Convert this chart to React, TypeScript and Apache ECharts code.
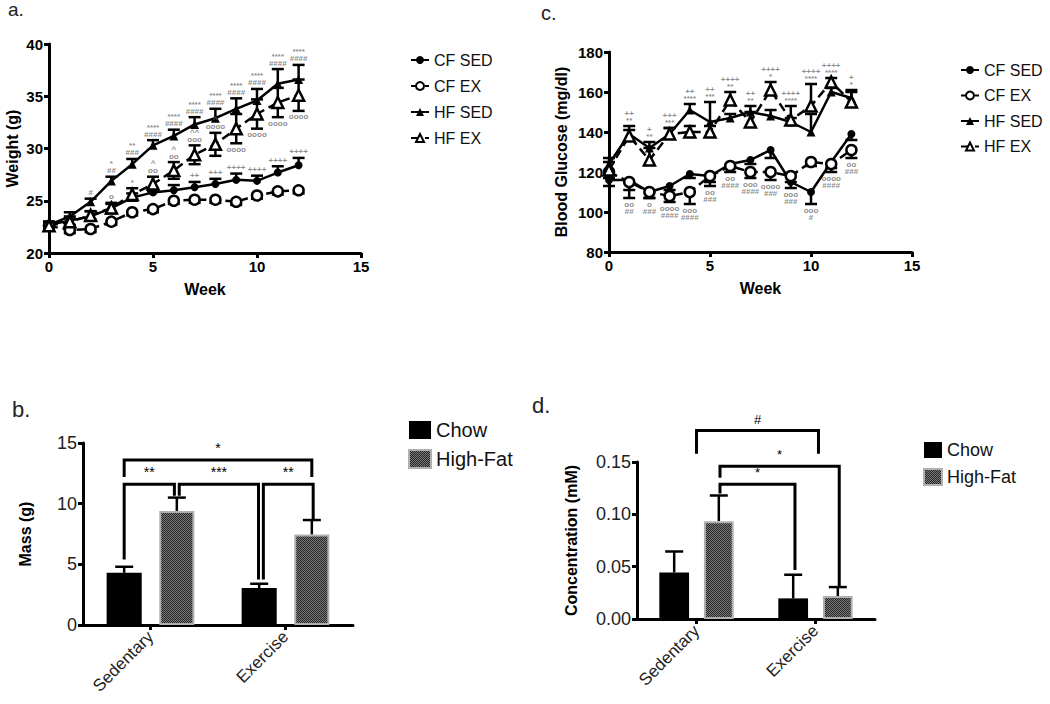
import React, { useEffect, useRef } from 'react';
import * as echarts from 'echarts';

const FONT = '"Liberation Sans", Arial, Helvetica, sans-serif';

// ---------- Panel a: body weight ----------
const weeks = [0, 1, 2, 3, 4, 5, 6, 7, 8, 9, 10, 11, 12];
const aCfSed = [22.7, 23.1, 23.5, 24.3, 25.3, 25.8, 26.0, 26.3, 26.6, 27.0, 26.9, 27.7, 28.4];
const aCfEx = [22.6, 22.2, 22.3, 23.0, 23.9, 24.2, 25.0, 25.1, 25.1, 24.9, 25.5, 25.9, 26.0];
const aHfSed = [22.7, 23.5, 24.9, 26.9, 28.5, 30.3, 31.2, 32.3, 32.9, 33.8, 34.6, 36.2, 36.6];
const aHfEx = [22.6, 23.0, 23.6, 24.3, 25.6, 26.6, 27.9, 29.4, 30.4, 31.9, 33.3, 34.4, 35.1];
const aCfSedErr = [0.3, 0.4, 0.5, 0.4, 0.4, 0.4, 0.5, 0.5, 0.5, 0.6, 0.5, 0.6, 0.7];
const aCfExErr = [0.3, 0.3, 0.3, 0.3, 0.3, 0.3, 0.3, 0.3, 0.3, 0.3, 0.3, 0.3, 0.3];
const aHfSedErr = [0.3, 0.4, 0.3, 0.4, 0.5, 0.5, 0.6, 0.7, 0.9, 1.0, 1.1, 1.4, 1.4];
const aHfExErr = [0.3, 0.3, 0.4, 0.5, 0.6, 0.7, 0.8, 0.9, 1.1, 1.4, 1.4, 1.4, 1.5];
const aHfSedNotes = ['', '', '#', '*\n##', '**\n###', '****\n####', '****\n####', '****\n####', '****\n####', '****\n####', '****\n####', '****\n####', '****\n####'];
const aHfExTopNotes = ['', '', '', 'o', '*', '^\noo', '^\noo', '^^\nooo', '^\noooo', '', '', '', ''];
const aHfExBottomNotes = ['', '', '', '', '', '', '', '', '', 'oooo', 'oooo', 'oooo', 'oooo'];
const aCfSedNotes = ['', '', '', '', '', '', '', '++', '+++', '++++', '++++', '++++', '++++'];

// ---------- Panel c: blood glucose ----------
const cCfSed = [116, 116, 110, 113, 119, 118, 124, 126, 131, 115, 110, 125, 139];
const cCfEx = [120, 115, 110, 108, 110, 118, 123, 120, 120, 118, 125, 124, 131];
const cHfSed = [124, 139, 132, 139, 151, 145, 147, 150, 148, 145, 140, 160, 157];
const cHfEx = [121, 138, 126, 139, 140, 140, 156, 145, 161, 146, 153, 165, 155];
const cCfSedErr = [3, 9, 3, 2, 2, 3, 2, 2, 4, 3, 6, 3, 3];
const cCfExErr = [3, 4, 3, 3, 6, 5, 3, 3, 4, 3, 2, 4, 4];
const cHfSedErr = [3, 4, 3, 3, 3, 10, 2, 3, 3, 2, 9, 2, 4];
const cHfExErr = [4, 3, 6, 3, 3, 3, 4, 5, 4, 7, 11, 2, 5];
const cHfNotes = ['', '++\n**', '+\n**', '+++\n***', '++\n****', '++\n***', '++++\n**', '++\n**', '++++\n*', '++++\n****', '++++\n****', '++++\n****', '+\n*'];
const cCfNotes = ['', 'oo\n##', 'o\n###', 'oooo\n####', 'ooo\n####', 'oo\n###', 'oo\n####', 'ooo\n####', 'oooo\n###', 'ooo\n###', 'ooo\n#', 'oooo\n####', 'oo\n###'];

const lineNames = ['CF SED', 'CF EX', 'HF SED', 'HF EX'];

// ---------- Panel b: fat mass ----------
const barCategories = ['Sedentary', 'Exercise'];
const barNames = ['Chow', 'High-Fat'];
const bChow = [4.3, 3.05];
const bChowErr = [0.5, 0.35];
const bHf = [9.4, 7.45];
const bHfErr = [1.1, 1.2];
const bBracketLabels = ['*', '**', '***', '**'];
const bBracketTops = [13.6, 11.6, 11.6, 11.6];
const bBracketEnds = [[12.2, 12.2], [5.4, 10.65], [10.65, 3.75], [3.75, 8.7]];

// ---------- Panel d: concentration ----------
const dChow = [0.0445, 0.0197];
const dChowErr = [0.02, 0.0226];
const dHf = [0.0935, 0.022];
const dHfErr = [0.0245, 0.0085];
const dBracketLabels = ['#', '*', '*'];
const dBracketTops = [0.18, 0.146, 0.1287];
const dBracketEnds = [[0.158, 0.158], [0.135, 0.0308], [0.12, 0.0467]];

const B_BAR_W = 0.26;
const B_OFF = 0.75 * B_BAR_W;
const D_BAR_W = 0.25;
const D_OFF = 0.75 * D_BAR_W;
const bBracketX = [
  [-B_OFF, 1 + B_OFF],
  [-B_OFF, B_OFF - 0.018],
  [B_OFF + 0.018, 1 - B_OFF - 0.005],
  [1 - B_OFF + 0.031, 1 + B_OFF + 0.01],
];
const dBracketX = [
  [0, 1.025],
  [D_OFF + 0.01, 1 + D_OFF + 0.012],
  [D_OFF + 0.01, 1 - D_OFF + 0.015],
];

const NOTE_COLOR = '#6e6e6e';

function errSeries(xi: number, yi: number, xs: number[], ys: number[], errs: number[], dir: number, capW: number, lw: number) {
  return {
    type: 'custom',
    xAxisIndex: xi,
    yAxisIndex: yi,
    silent: true,
    clip: false,
    z: 1,
    encode: { x: 0, y: 1 },
    data: xs.map((x, i) => [x, ys[i], errs[i]]),
    renderItem: (_p: any, api: any) => {
      const x = api.value(0);
      const y = api.value(1);
      const e = api.value(2);
      const top = api.coord([x, dir >= 0 ? y + e : y]);
      const bot = api.coord([x, dir <= 0 ? y - e : y]);
      const st = { stroke: '#000', lineWidth: lw };
      const children: any[] = [
        { type: 'line', shape: { x1: top[0], y1: top[1], x2: bot[0], y2: bot[1] }, style: st },
      ];
      if (dir >= 0) children.push({ type: 'line', shape: { x1: top[0] - capW / 2, y1: top[1], x2: top[0] + capW / 2, y2: top[1] }, style: st });
      if (dir <= 0) children.push({ type: 'line', shape: { x1: bot[0] - capW / 2, y1: bot[1], x2: bot[0] + capW / 2, y2: bot[1] }, style: st });
      return { type: 'group', children };
    },
  };
}

function noteSeries(xi: number, yi: number, xs: number[], anchors: number[], texts: string[], pos: string) {
  const keep = xs.map((_, i) => i).filter((i) => texts[i]);
  return {
    type: 'scatter',
    xAxisIndex: xi,
    yAxisIndex: yi,
    silent: true,
    z: 6,
    color: NOTE_COLOR,
    symbolSize: 1,
    itemStyle: { color: 'rgba(255,255,255,0)' },
    data: keep.map((i) => [xs[i], anchors[i]]),
    label: {
      show: true,
      position: pos,
      distance: 2,
      fontSize: 8,
      lineHeight: 7,
      fontWeight: 'bold',
      color: NOTE_COLOR,
      textBorderWidth: 0,
      fontFamily: FONT,
      formatter: (p: any) => texts[keep[p.dataIndex]],
    },
  };
}

function lineSeries(name: string, xi: number, yi: number, vals: number[], symbol: string, size: number, open: boolean) {
  return {
    type: 'line',
    name,
    xAxisIndex: xi,
    yAxisIndex: yi,
    z: 3,
    color: '#000',
    symbol,
    symbolSize: size,
    showAllSymbol: true,
    data: weeks.map((w, i) => [w, vals[i]]),
    lineStyle: { color: '#000', width: 2.5, type: open ? [9, 5] : 'solid' },
    itemStyle: open ? { color: '#fff', borderColor: '#000', borderWidth: 2.5 } : { color: '#000' },
  };
}

function bracketSeries(xi: number, yi: number, xs: number[][], tops: number[], ends: number[][], labels: string[], fs: number) {
  return {
    type: 'custom',
    xAxisIndex: xi,
    yAxisIndex: yi,
    silent: true,
    clip: false,
    z: 4,
    encode: { x: [0, 1], y: [2, 3, 4] },
    data: xs.map((x, i) => [x[0], x[1], tops[i], ends[i][0], ends[i][1]]),
    renderItem: (p: any, api: any) => {
      const x1 = api.value(0);
      const x2 = api.value(1);
      const t = api.value(2);
      const a = api.coord([x1, api.value(3)]);
      const b = api.coord([x1, t]);
      const c = api.coord([x2, t]);
      const d = api.coord([x2, api.value(4)]);
      return {
        type: 'group',
        children: [
          {
            type: 'polyline',
            shape: { points: [a, b, c, d] },
            style: { stroke: '#000', lineWidth: 3, fill: null, lineJoin: 'miter' },
          },
          {
            type: 'text',
            x: (b[0] + c[0]) / 2,
            y: b[1] - 5,
            style: { text: labels[p.dataIndex], fontSize: fs, fontFamily: FONT, fill: '#000', align: 'center', verticalAlign: 'bottom' },
          },
        ],
      };
    },
  };
}

function valueX(grid: number, max: number, name: string) {
  return {
    type: 'value',
    gridIndex: grid,
    min: 0,
    max,
    interval: 5,
    name,
    nameLocation: 'middle',
    nameGap: 28,
    nameTextStyle: { fontWeight: 'bold', fontSize: 16, color: '#000', fontFamily: FONT },
    axisLine: { onZero: false, lineStyle: { color: '#000', width: 3 } },
    axisTick: { show: true, length: 5, lineStyle: { color: '#000', width: 3 } },
    axisLabel: { fontWeight: 'bold', fontSize: 15, color: '#000', margin: 6, fontFamily: FONT },
    splitLine: { show: false },
  };
}

function valueY(grid: number, min: number, max: number, interval: number, name: string, gap: number, bold: boolean, fs: number, fmt?: (v: number) => string) {
  return {
    type: 'value',
    gridIndex: grid,
    min,
    max,
    interval,
    name,
    nameLocation: 'middle',
    nameGap: gap,
    nameTextStyle: { fontWeight: 'bold', fontSize: 16, color: '#000', fontFamily: FONT },
    axisLine: { show: true, onZero: false, lineStyle: { color: '#000', width: 3 } },
    axisTick: { show: true, length: 5, lineStyle: { color: '#000', width: 3 } },
    axisLabel: { fontWeight: bold ? 'bold' : 'normal', fontSize: fs, color: bold ? '#000' : '#222', margin: 6, fontFamily: FONT, formatter: fmt },
    splitLine: { show: false },
  };
}

function catX(grid: number) {
  return {
    type: 'category',
    gridIndex: grid,
    data: barCategories,
    axisLine: { lineStyle: { color: '#000', width: 3 } },
    axisTick: { show: true, alignWithLabel: true, length: 5, lineStyle: { color: '#000', width: 3 } },
    axisLabel: { rotate: 45, fontSize: 17, color: '#222', margin: 9, fontFamily: FONT },
    splitLine: { show: false },
  };
}

function hiddenX(grid: number) {
  return { type: 'value', gridIndex: grid, min: -0.5, max: 1.5, show: false, splitLine: { show: false } };
}

export default function App() {
  const ref = useRef<HTMLDivElement>(null);
  useEffect(() => {
    if (!ref.current) return;
    const cv = document.createElement('canvas');
    cv.width = 4;
    cv.height = 4;
    const ctx = cv.getContext('2d')!;
    ctx.fillStyle = '#7a7a7a';
    ctx.fillRect(0, 0, 4, 4);
    ctx.fillStyle = '#262626';
    for (let y = 0; y < 4; y++) for (let x = 0; x < 4; x++) if ((x + y) % 2 === 0) ctx.fillRect(x, y, 1, 1);
    const hfFill = { image: cv.toDataURL(), repeat: 'repeat', imageWidth: 4, imageHeight: 4 };

    const chart = echarts.init(ref.current, undefined, { renderer: 'svg' });
    const hfStyle = { color: hfFill, borderColor: '#b0b0b0', borderWidth: 2 };

    const option: any = {
      animation: false,
      textStyle: { fontFamily: FONT },
      grid: [
        { left: 49, top: 44, width: 312, height: 209, outerBoundsMode: 'none' },
        { left: 609, top: 52, width: 303, height: 200, outerBoundsMode: 'none' },
        { left: 83, top: 443, width: 270, height: 182, outerBoundsMode: 'none' },
        { left: 637, top: 462, width: 238, height: 157, outerBoundsMode: 'none' },
      ],
      xAxis: [valueX(0, 15, 'Week'), valueX(1, 15, 'Week'), catX(2), hiddenX(2), catX(3), hiddenX(3)],
      yAxis: [
        valueY(0, 20, 40, 5, 'Weight (g)', 29, true, 15),
        valueY(1, 80, 180, 20, 'Blood Glucose (mg/dl)', 40, true, 15),
        valueY(2, 0, 15, 5, 'Mass (g)', 50, false, 18),
        valueY(3, 0, 0.15, 0.05, 'Concentration (mM)', 58, false, 18, (v: number) => v.toFixed(2)),
      ],
      legend: [
        {
          data: lineNames, orient: 'vertical', left: 405, top: 47, itemWidth: 18, itemHeight: 10, itemGap: 10,
          textStyle: { fontSize: 16, color: '#111', fontFamily: FONT }, selectedMode: false,
        },
        {
          data: lineNames, orient: 'vertical', left: 955, top: 57, itemWidth: 18, itemHeight: 10, itemGap: 9.5,
          textStyle: { fontSize: 16, color: '#111', fontFamily: FONT }, selectedMode: false,
        },
        {
          data: barNames, orient: 'vertical', left: 403, top: 415, icon: 'rect', itemWidth: 22, itemHeight: 18, itemGap: 9,
          textStyle: { fontSize: 20, color: '#111', fontFamily: FONT }, selectedMode: false,
        },
        {
          data: barNames, orient: 'vertical', left: 918, top: 436, icon: 'rect', itemWidth: 18, itemHeight: 16, itemGap: 9,
          textStyle: { fontSize: 18, color: '#111', fontFamily: FONT }, selectedMode: false,
        },
      ],
      graphic: [
        { type: 'text', left: 8, top: 0, style: { text: 'a.', fontSize: 19, fontFamily: FONT, fill: '#222' } },
        { type: 'text', left: 541, top: 3, style: { text: 'c.', fontSize: 20, fontFamily: FONT, fill: '#222' } },
        { type: 'text', left: 12, top: 398, style: { text: 'b.', fontSize: 22, fontFamily: FONT, fill: '#222' } },
        { type: 'text', left: 532, top: 394, style: { text: 'd.', fontSize: 22, fontFamily: FONT, fill: '#222' } },
      ],
      series: [
        // panel a
        errSeries(0, 0, weeks, aCfSed, aCfSedErr, 1, 12, 2.5),
        errSeries(0, 0, weeks, aCfEx, aCfExErr, -1, 12, 2.5),
        errSeries(0, 0, weeks, aHfSed, aHfSedErr, 1, 12, 2.5),
        errSeries(0, 0, weeks, aHfEx, aHfExErr, 0, 12, 2.5),
        lineSeries('CF SED', 0, 0, aCfSed, 'circle', 8, false),
        lineSeries('CF EX', 0, 0, aCfEx, 'circle', 10, true),
        lineSeries('HF SED', 0, 0, aHfSed, 'triangle', 9, false),
        lineSeries('HF EX', 0, 0, aHfEx, 'triangle', 11, true),
        noteSeries(0, 0, weeks, aHfSed.map((v, i) => v + aHfSedErr[i]), aHfSedNotes, 'top'),
        noteSeries(0, 0, weeks, aHfEx.map((v, i) => v + aHfExErr[i]), aHfExTopNotes, 'top'),
        noteSeries(0, 0, weeks, aHfEx.map((v, i) => v - aHfExErr[i]), aHfExBottomNotes, 'bottom'),
        noteSeries(0, 0, weeks, aCfSed.map((v, i) => v + aCfSedErr[i]), aCfSedNotes, 'top'),
        // panel c
        errSeries(1, 1, weeks, cCfSed, cCfSedErr, -1, 12, 2.5),
        errSeries(1, 1, weeks, cCfEx, cCfExErr, -1, 12, 2.5),
        errSeries(1, 1, weeks, cHfSed, cHfSedErr, 1, 12, 2.5),
        errSeries(1, 1, weeks, cHfEx, cHfExErr, 1, 12, 2.5),
        lineSeries('CF SED', 1, 1, cCfSed, 'circle', 8, false),
        lineSeries('CF EX', 1, 1, cCfEx, 'circle', 10, true),
        lineSeries('HF SED', 1, 1, cHfSed, 'triangle', 9, false),
        lineSeries('HF EX', 1, 1, cHfEx, 'triangle', 11, true),
        noteSeries(1, 1, weeks, cHfSed.map((v, i) => Math.max(v + cHfSedErr[i], cHfEx[i] + cHfExErr[i])), cHfNotes, 'top'),
        noteSeries(1, 1, weeks, cCfSed.map((v, i) => Math.min(v - cCfSedErr[i], cCfEx[i] - cCfExErr[i])), cCfNotes, 'bottom'),
        // panel b
        {
          type: 'bar', name: 'Chow', xAxisIndex: 2, yAxisIndex: 2, data: bChow, barWidth: `${B_BAR_W * 100}%`, barGap: '50%',
          color: '#000', itemStyle: { color: '#000' }, z: 2,
        },
        {
          type: 'bar', name: 'High-Fat', xAxisIndex: 2, yAxisIndex: 2, data: bHf, barWidth: `${B_BAR_W * 100}%`, barGap: '50%',
          color: '#555', itemStyle: hfStyle, z: 2,
        },
        errSeries(3, 2, [0 - B_OFF, 1 - B_OFF], bChow, bChowErr, 1, 18, 2.5),
        errSeries(3, 2, [0 + B_OFF, 1 + B_OFF], bHf, bHfErr, 1, 18, 2.5),
        bracketSeries(3, 2, bBracketX, bBracketTops, bBracketEnds, bBracketLabels, 14),
        // panel d
        {
          type: 'bar', name: 'Chow', xAxisIndex: 4, yAxisIndex: 3, data: dChow, barWidth: `${D_BAR_W * 100}%`, barGap: '50%',
          color: '#000', itemStyle: { color: '#000' }, z: 2,
        },
        {
          type: 'bar', name: 'High-Fat', xAxisIndex: 4, yAxisIndex: 3, data: dHf, barWidth: `${D_BAR_W * 100}%`, barGap: '50%',
          color: '#555', itemStyle: hfStyle, z: 2,
        },
        errSeries(5, 3, [0 - D_OFF, 1 - D_OFF], dChow, dChowErr, 1, 18, 2.5),
        errSeries(5, 3, [0 + D_OFF, 1 + D_OFF], dHf, dHfErr, 1, 18, 2.5),
        bracketSeries(5, 3, dBracketX, dBracketTops, dBracketEnds, dBracketLabels, 13),
      ],
    };
    chart.setOption(option);
    return () => chart.dispose();
  }, []);
  return <div ref={ref} style={{ position: 'absolute', left: 0, top: 0, width: 1050, height: 704, background: '#fff' }} />;
}
